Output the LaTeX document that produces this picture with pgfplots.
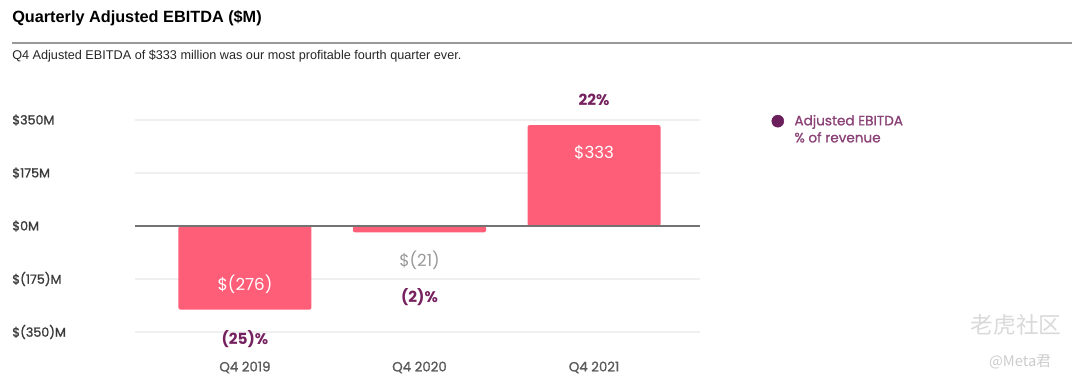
\documentclass[border=0pt]{standalone}
\usepackage{pgfplots}
\pgfplotsset{compat=1.18}
\usepackage{fontspec}
\setmainfont{Liberation Sans}
\newfontfamily\pop{Poppins}
\newfontfamily\popm{Poppins}[FakeBold=1.2]
\newfontfamily\cjk{Noto Sans CJK SC}
\definecolor{barpink}{HTML}{FF5E78}
\definecolor{plum}{HTML}{76215F}
\definecolor{legplum}{HTML}{6B1E5C}
\definecolor{ticktxt}{HTML}{3A3A3A}
\begin{document}
\begin{tikzpicture}
\path[use as bounding box] (0,0) rectangle (810pt,291.75pt);
\node[anchor=west, inner sep=0pt, font=\bfseries\fontsize{12.2}{14}\selectfont] at (9pt,278.25pt) {Quarterly Adjusted EBITDA (\$M)};
\draw[color=black!40, line width=0.8pt] (9pt,259.5pt) -- (804pt,259.5pt);
\node[anchor=west, inner sep=0pt, font=\fontsize{9.5}{11}\selectfont, text=black!85] at (9pt,249.5pt) {Q4 Adjusted EBITDA of \$333 million was our most profitable fourth quarter ever.};
\begin{axis}[
  at={(101.25pt,42.75pt)}, anchor=south west,
  scale only axis, width=423.75pt, height=159pt,
  xmin=-0.63, xmax=2.607, ymin=-350, ymax=350,
  axis line style={draw=none},
  clip=false,
  xtick={0,1,2}, xticklabels={Q4 2019, Q4 2020, Q4 2021},
  ytick={-350,-175,0,175,350},
  yticklabels={\$(350)M, \$(175)M, \$0M, \$175M, \$350M},
  major tick length=0pt,
  ymajorgrids, grid style={color=black!6, line width=0.8pt},
  xticklabel style={font=\popm\fontsize{10}{12}\selectfont, text=black!65, anchor=north, inner sep=0pt, yshift=-22pt},
  yticklabel style={font=\popm\fontsize{9.5}{11}\selectfont, text=ticktxt, anchor=west, inner sep=0pt, xshift=-92.25pt},
  /pgf/number format/assume math mode=true,
  legend style={at={(rel axis cs:1.11,1.05)}, anchor=north west, draw=none, fill=none,
    font=\popm\fontsize{10.2}{12}\selectfont, text=plum!85, row sep=-0.5pt,
    cells={anchor=west}},
  legend cell align=left,
]
\addplot[ybar, bar width=99.75pt, fill=barpink, draw=none, rounded corners=1.5pt, forget plot] coordinates {(0,-276) (1,-21) (2,333)};
\addplot[color=black!55, line width=1pt, forget plot] coordinates {(-0.63,0) (2.607,0)};
\addlegendimage{only marks, mark=*, mark size=4.5pt, color=legplum}
\addlegendentry{\hspace*{6pt}Adjusted EBITDA}
\addlegendimage{empty legend}
\addlegendentry{\hspace*{6pt}\% of revenue}
\node[font=\pop\fontsize{12.5}{14}\selectfont, text=white] at (axis cs:0,-191) {\$(276)};
\node[font=\pop\fontsize{12.5}{14}\selectfont, text=white] at (axis cs:2,241) {\$333};
\node[font=\pop\fontsize{12.5}{14}\selectfont, text=black!40] at (axis cs:1,-112) {\$(21)};
\node[font=\pop\bfseries\fontsize{11.5}{13}\selectfont, text=plum] at (axis cs:2,416) {22\%};
\node[font=\pop\bfseries\fontsize{11.5}{13}\selectfont, text=plum] at (axis cs:1,-234) {(2)\%};
\node[font=\pop\bfseries\fontsize{11.5}{13}\selectfont, text=plum] at (axis cs:0,-373) {(25)\%};
\end{axis}
\node[font=\cjk\fontsize{17}{19}\selectfont, text=black!15] at (762pt,48pt) {老虎社区};
\node[font=\cjk\fontsize{11}{13}\selectfont, text=black!20] at (765pt,20.25pt) {@Meta君};
\end{tikzpicture}
\end{document}
